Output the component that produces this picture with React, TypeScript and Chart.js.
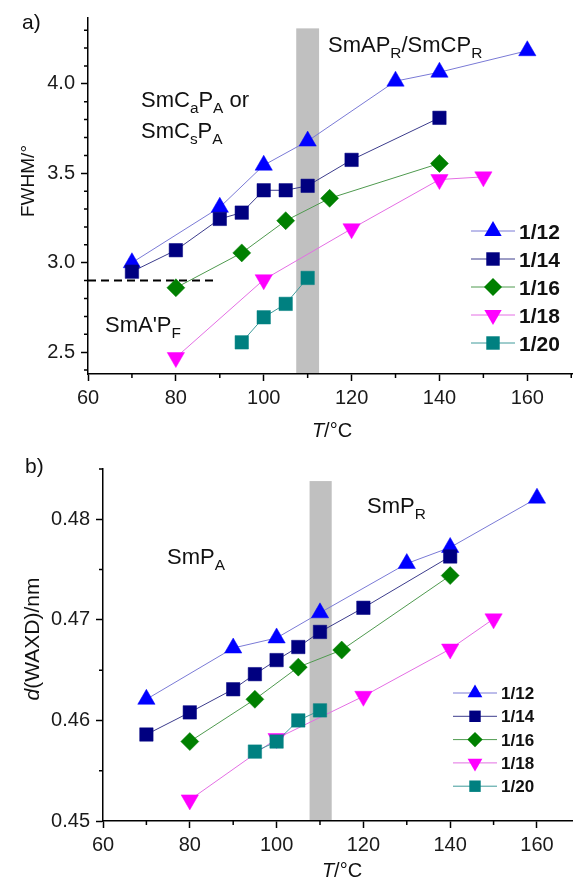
import React, { useEffect, useRef } from 'react';
import { Chart, registerables } from 'chart.js';
Chart.register(...registerables);

const FONT = '"Liberation Sans", Arial, Helvetica, sans-serif';

// ---------- series ----------
const SERIES = ['1/12', '1/14', '1/16', '1/18', '1/20'];
const MARKER_COLORS = ['#0000ff', '#000080', '#008000', '#ff00ff', '#008080'];
const LINE_COLORS = ['#7a7ad6', '#3c3c8c', '#4f9a4f', '#e46ee4', '#3f9a9a'];
const MARKER_STYLES = ['triangle', 'rect', 'rectRot', 'triangle', 'rect'];
const MARKER_ROT = [0, 0, 0, 180, 0];
const MARKER_R = [10, 9.5, 9, 10, 9.5];

// ---------- panel a: FWHM ----------
const A_T12 = [70, 90, 100, 110, 130, 140, 160];
const A_F12 = [3.0, 3.31, 3.545, 3.68, 4.015, 4.065, 4.185];
const A_T14 = [70, 80, 90, 95, 100, 105, 110, 120, 140];
const A_F14 = [2.95, 3.07, 3.245, 3.28, 3.405, 3.405, 3.43, 3.575, 3.81];
const A_T16 = [80, 95, 105, 115, 140];
const A_F16 = [2.86, 3.055, 3.235, 3.36, 3.555];
const A_T18 = [80, 100, 120, 140, 150];
const A_F18 = [2.47, 2.905, 3.19, 3.465, 3.48];
const A_T20 = [95, 100, 105, 110];
const A_F20 = [2.555, 2.695, 2.77, 2.915];
const A_DASH_T = [60, 89];
const A_DASH_V = [2.9, 2.9];
const A_BAND_T = [107.4, 112.6];
const A_BAND_TOP = 4.31;
const A_X_TICKS = [60, 80, 100, 120, 140, 160];
const A_X_MINOR = [70, 90, 110, 130, 150, 170];
const A_Y_TICKS = [2.5, 3.0, 3.5, 4.0];
const A_Y_MINOR = [2.4, 2.6, 2.7, 2.8, 2.9, 3.1, 3.2, 3.3, 3.4, 3.6, 3.7, 3.8, 3.9, 4.1, 4.2, 4.3];

// ---------- panel b: d(WAXD) ----------
const B_T12 = [70, 90, 100, 110, 130, 140, 160];
const B_D12 = [0.4621, 0.4672, 0.4682, 0.4707, 0.4756, 0.4772, 0.4821];
const B_T14 = [70, 80, 90, 95, 100, 105, 110, 120, 140];
const B_D14 = [0.4586, 0.4608, 0.4631, 0.4646, 0.466, 0.4673, 0.4688, 0.4712, 0.4763];
const B_T16 = [80, 95, 105, 115, 140];
const B_D16 = [0.4579, 0.4621, 0.4653, 0.467, 0.4744];
const B_T18 = [80, 100, 120, 140, 150];
const B_D18 = [0.4521, 0.4582, 0.4624, 0.4671, 0.4701];
const B_T20 = [95, 100, 105, 110];
const B_D20 = [0.4569, 0.4579, 0.46, 0.461];
const B_BAND_T = [107.6, 112.7];
const B_BAND_TOP = 0.4838;
const B_X_TICKS = [60, 80, 100, 120, 140, 160];
const B_X_MINOR = [70, 90, 110, 130, 150, 170];
const B_Y_TICKS = [0.45, 0.46, 0.47, 0.48];
const B_Y_MINOR = [0.455, 0.465, 0.475, 0.485];

type Part = [string, number]; // 0 normal, 1 subscript, 2 italic

function drawParts(ctx: CanvasRenderingContext2D, parts: Part[], x: number, y: number, size: number, align = 'left', bold = false) {
  const sub = size * 0.7;
  const fontOf = (k: number) => `${k === 2 ? 'italic ' : ''}${bold ? 'bold ' : ''}${k === 1 ? sub : size}px ${FONT}`;
  let w = 0;
  for (const [t, k] of parts) { ctx.font = fontOf(k); w += ctx.measureText(t).width; }
  let cx = align === 'center' ? x - w / 2 : x;
  ctx.textAlign = 'left';
  ctx.textBaseline = 'alphabetic';
  for (const [t, k] of parts) {
    ctx.font = fontOf(k);
    ctx.fillText(t, cx, k === 1 ? y + size * 0.28 : y);
    cx += ctx.measureText(t).width;
  }
}

function drawMarker(ctx: CanvasRenderingContext2D, style: string, rotDeg: number, x: number, y: number, r: number, color: string) {
  ctx.save();
  ctx.fillStyle = color;
  ctx.beginPath();
  let rad = (rotDeg * Math.PI) / 180;
  if (style === 'triangle') {
    for (let i = 0; i < 3; i++) {
      const px = x + Math.sin(rad) * r, py = y - Math.cos(rad) * r;
      if (i === 0) ctx.moveTo(px, py); else ctx.lineTo(px, py);
      rad += (2 * Math.PI) / 3;
    }
    ctx.closePath();
  } else if (style === 'rect') {
    const s = r * Math.SQRT1_2;
    ctx.rect(x - s, y - s, 2 * s, 2 * s);
  } else {
    ctx.moveTo(x, y - r); ctx.lineTo(x + r, y); ctx.lineTo(x, y + r); ctx.lineTo(x - r, y); ctx.closePath();
  }
  ctx.fill();
  ctx.restore();
}

type Spec = {
  id: string; width: number; height: number; padTop: number; yAxisW: number; xAxisH: number;
  xMin: number; xMax: number; yMin: number; yMax: number;
  xTicks: number[]; xMinor: number[]; yTicks: number[]; yMinor: number[]; yDec: number;
  xs: number[][]; ys: number[][]; band: number[]; bandTop: number;
  dash?: { t: number[]; v: number[] };
  texts: { parts: Part[]; x: number; y: number; size: number }[];
  yTitle: { parts: Part[]; x: number; y: number; size: number };
  xTitle: { parts: Part[]; x: number; y: number; size: number };
  legend: { lineX0: number; lineX1: number; markX: number; textX: number; y0: number; dy: number; size: number; mScale: number };
};

function makeChart(canvas: HTMLCanvasElement, spec: Spec) {
  const datasets: any[] = SERIES.map((name, i) => ({
    label: name,
    data: spec.xs[i].map((t, j) => ({ x: t, y: spec.ys[i][j] })),
    showLine: true,
    borderColor: LINE_COLORS[i],
    borderWidth: 1,
    pointStyle: MARKER_STYLES[i],
    pointRotation: MARKER_ROT[i],
    pointRadius: MARKER_R[i],
    pointBackgroundColor: MARKER_COLORS[i],
    pointBorderColor: MARKER_COLORS[i],
    pointBorderWidth: 0.5,
    order: 5 - i,
    clip: false,
  }));
  if (spec.dash) {
    datasets.push({
      label: 'dash',
      data: spec.dash.t.map((t, j) => ({ x: t, y: spec.dash!.v[j] })),
      showLine: true, borderColor: '#000', borderWidth: 2, borderDash: [8, 5], pointRadius: 0, order: 10,
    });
  }
  const overlay = {
    id: 'overlay_' + spec.id,
    beforeDatasetsDraw(chart: any) {
      const { ctx, chartArea } = chart;
      const x = chart.scales.x, y = chart.scales.y;
      const x1 = x.getPixelForValue(spec.band[0]);
      const x2 = x.getPixelForValue(spec.band[1]);
      const yt = y.getPixelForValue(spec.bandTop);
      ctx.save();
      ctx.fillStyle = '#c0c0c0';
      ctx.fillRect(x1, yt, x2 - x1, chartArea.bottom - 1 - yt);
      ctx.restore();
    },
    afterDraw(chart: any) {
      const { ctx, chartArea } = chart;
      const x = chart.scales.x, y = chart.scales.y;
      ctx.save();
      ctx.strokeStyle = '#000';
      ctx.lineWidth = 1.5;
      ctx.beginPath();
      for (const v of spec.xMinor) {
        if (v < spec.xMin || v > spec.xMax) continue;
        const px = x.getPixelForValue(v);
        ctx.moveTo(px, chartArea.bottom); ctx.lineTo(px, chartArea.bottom + 4);
      }
      for (const v of spec.yMinor) {
        if (v < spec.yMin || v > spec.yMax + 1e-9) continue;
        const py = y.getPixelForValue(v);
        ctx.moveTo(chartArea.left - 4, py); ctx.lineTo(chartArea.left, py);
      }
      ctx.stroke();
      ctx.fillStyle = '#111';
      for (const t of spec.texts) drawParts(ctx, t.parts, t.x, t.y, t.size);
      drawParts(ctx, spec.xTitle.parts, spec.xTitle.x, spec.xTitle.y, spec.xTitle.size, 'center');
      ctx.save();
      ctx.translate(spec.yTitle.x, spec.yTitle.y);
      ctx.rotate(-Math.PI / 2);
      drawParts(ctx, spec.yTitle.parts, 0, spec.yTitle.size * 0.36, spec.yTitle.size, 'center');
      ctx.restore();
      // legend
      const L = spec.legend;
      SERIES.forEach((name, i) => {
        const ly = L.y0 + i * L.dy;
        ctx.strokeStyle = LINE_COLORS[i];
        ctx.lineWidth = 1;
        ctx.beginPath(); ctx.moveTo(L.lineX0, ly); ctx.lineTo(L.lineX1, ly); ctx.stroke();
        drawMarker(ctx, MARKER_STYLES[i], MARKER_ROT[i], L.markX, ly, MARKER_R[i] * L.mScale, MARKER_COLORS[i]);
        ctx.fillStyle = '#111';
        drawParts(ctx, [[name, 0]], L.textX, ly + L.size * 0.36, L.size, 'left', true);
      });
      ctx.restore();
    },
  };
  const tickFont = { family: FONT, size: 20 };
  return new Chart(canvas, {
    type: 'scatter',
    data: { datasets },
    options: {
      responsive: false,
      animation: false,
      devicePixelRatio: 1,
      events: [],
      layout: { autoPadding: false, padding: { top: spec.padTop, right: 0, bottom: 0, left: 0 } },
      plugins: { legend: { display: false }, tooltip: { enabled: false } },
      scales: {
        x: {
          type: 'linear', position: 'bottom', min: spec.xMin, max: spec.xMax,
          afterFit: (s: any) => { s.height = spec.xAxisH; s.paddingLeft = 0; s.paddingRight = 0; },
          afterBuildTicks: (s: any) => { s.ticks = spec.xTicks.map((v) => ({ value: v })); },
          grid: { display: true, drawOnChartArea: false, drawTicks: true, tickLength: 7, tickWidth: 1.5, tickColor: '#000' },
          border: { display: true, color: '#000', width: 1.5 },
          ticks: { font: tickFont, color: '#1a1a1a', padding: 5, autoSkip: false, maxRotation: 0, callback: (v: any) => String(v) },
        },
        y: {
          type: 'linear', min: spec.yMin, max: spec.yMax,
          afterFit: (s: any) => { s.width = spec.yAxisW; s.paddingTop = 0; s.paddingBottom = 0; },
          afterBuildTicks: (s: any) => { s.ticks = spec.yTicks.map((v) => ({ value: v })); },
          grid: { display: true, drawOnChartArea: false, drawTicks: true, tickLength: 7, tickWidth: 1.5, tickColor: '#000' },
          border: { display: true, color: '#000', width: 1.5 },
          ticks: { font: tickFont, color: '#1a1a1a', padding: 6, autoSkip: false, callback: (v: any) => Number(v).toFixed(spec.yDec) },
        },
      },
    } as any,
    plugins: [overlay],
  });
}

const SPEC_A: Spec = {
  id: 'a', width: 573, height: 450, padTop: 18, yAxisW: 88, xAxisH: 76,
  xMin: 60, xMax: 170.4, yMin: 2.378, yMax: 4.368,
  xTicks: A_X_TICKS, xMinor: A_X_MINOR, yTicks: A_Y_TICKS, yMinor: A_Y_MINOR, yDec: 1,
  xs: [A_T12, A_T14, A_T16, A_T18, A_T20], ys: [A_F12, A_F14, A_F16, A_F18, A_F20],
  band: A_BAND_T, bandTop: A_BAND_TOP,
  dash: { t: A_DASH_T, v: A_DASH_V },
  texts: [
    { parts: [['a)', 0]], x: 22, y: 29, size: 21 },
    { parts: [['SmC', 0], ['a', 1], ['P', 0], ['A', 1], [' or', 0]], x: 141, y: 107, size: 22 },
    { parts: [['SmC', 0], ['s', 1], ['P', 0], ['A', 1]], x: 141, y: 138, size: 22 },
    { parts: [['SmAP', 0], ['R', 1], ['/SmCP', 0], ['R', 1]], x: 328, y: 52, size: 22 },
    { parts: [["SmA'P", 0], ['F', 1]], x: 105, y: 332, size: 22 },
  ],
  yTitle: { parts: [['FWHM/°', 0]], x: 27, y: 181, size: 19 },
  xTitle: { parts: [['T', 2], ['/°C', 0]], x: 332, y: 437, size: 20 },
  legend: { lineX0: 471, lineX1: 515, markX: 493, textX: 519, y0: 231, dy: 28, size: 21, mScale: 1 },
};

const SPEC_B: Spec = {
  id: 'b', width: 573, height: 438, padTop: 19, yAxisW: 103, xAxisH: 67,
  xMin: 60, xMax: 168.3, yMin: 0.45, yMax: 0.485,
  xTicks: B_X_TICKS, xMinor: B_X_MINOR, yTicks: B_Y_TICKS, yMinor: B_Y_MINOR, yDec: 2,
  xs: [B_T12, B_T14, B_T16, B_T18, B_T20], ys: [B_D12, B_D14, B_D16, B_D18, B_D20],
  band: B_BAND_T, bandTop: B_BAND_TOP,
  texts: [
    { parts: [['b)', 0]], x: 25, y: 23, size: 21 },
    { parts: [['SmP', 0], ['A', 1]], x: 167, y: 114, size: 22 },
    { parts: [['SmP', 0], ['R', 1]], x: 367, y: 63, size: 22 },
  ],
  yTitle: { parts: [['d', 2], ['(WAXD)/nm', 0]], x: 31, y: 189, size: 21 },
  xTitle: { parts: [['T', 2], ['/°C', 0]], x: 342, y: 427, size: 20 },
  legend: { lineX0: 453, lineX1: 497, markX: 475, textX: 501, y0: 243, dy: 23.3, size: 17, mScale: 0.85 },
};

function Panel({ spec, top }: { spec: Spec; top: number }) {
  const ref = useRef<HTMLCanvasElement>(null);
  useEffect(() => {
    const chart = makeChart(ref.current!, spec);
    return () => chart.destroy();
  }, [spec]);
  return (
    <canvas
      ref={ref}
      width={spec.width}
      height={spec.height}
      style={{ position: 'absolute', left: 0, top, width: spec.width, height: spec.height, display: 'block' }}
    />
  );
}

export default function App() {
  return (
    <div style={{ position: 'absolute', left: 0, top: 0, width: 573, height: 888, background: '#fff', overflow: 'hidden' }}>
      <Panel spec={SPEC_A} top={0} />
      <Panel spec={SPEC_B} top={450} />
    </div>
  );
}
